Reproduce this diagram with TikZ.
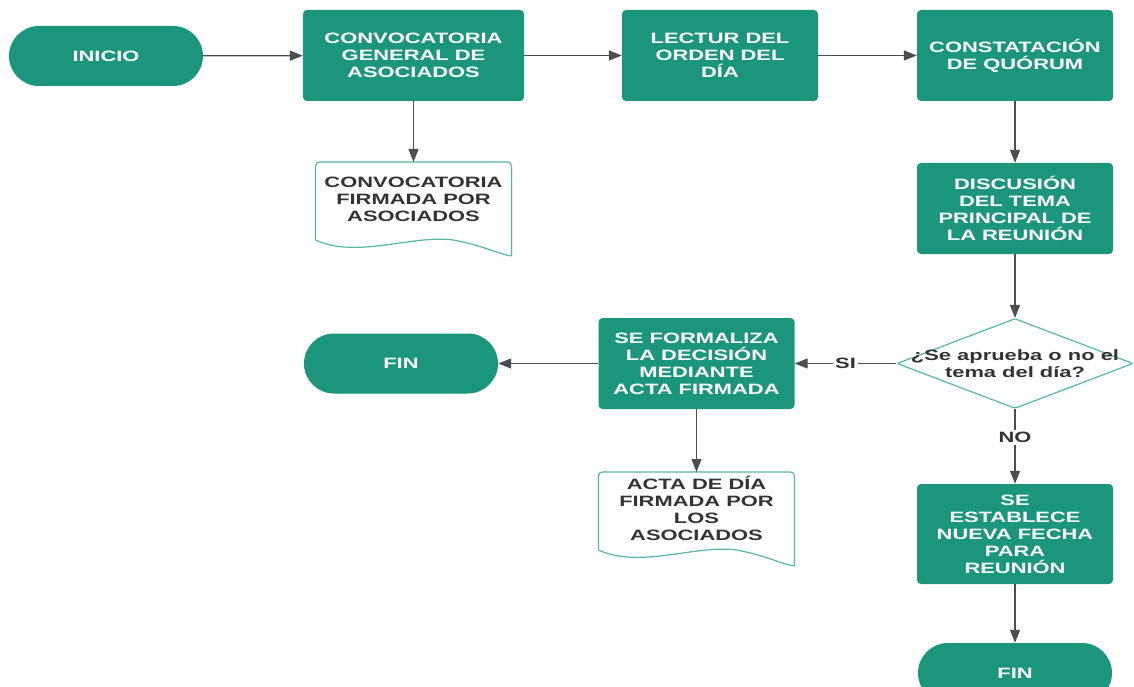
\documentclass[tikz,border=0pt]{standalone}
\usepackage{fontspec}
\setmainfont{Liberation Sans}[FakeStretch=1.46]
\usetikzlibrary{arrows.meta,shapes.geometric}
\definecolor{flowgreen}{HTML}{1B967D}
\definecolor{docedge}{HTML}{56B8A2}
\definecolor{inkgray}{HTML}{333333}
\definecolor{linegray}{HTML}{4D4D4D}

% outline of a document symbol hanging from its top-centre coordinate
\newcommand\docshape[1]{%
  \draw[docline, shift={(#1)}, rounded corners=4pt] (-98,78) -- (-98,0) -- (98,0) -- (98,94);
  \draw[docline, shift={(#1)}] (-98,78) .. controls (-55,98) and (5,70) .. (45,79)
        .. controls (70,84) and (85,92) .. (98,94);}

\begin{document}
\begin{tikzpicture}[x=1pt,y=-1pt,
  base/.style={font=\fontsize{15}{17}\selectfont\bfseries, align=center},
  terminal/.style={base, fill=flowgreen, text=white, minimum width=194pt, minimum height=60pt, rounded corners=30pt},
  process/.style={base, fill=flowgreen, text=white, minimum width=196pt, minimum height=91pt, rounded corners=4pt},
  doctext/.style={base, text=inkgray},
  decision/.style={diamond, draw=docedge, line width=1.2pt, minimum width=236pt, minimum height=90pt, inner sep=0pt, rounded corners=2pt},
  flow/.style={draw=linegray, line width=1.3pt, -{Triangle[length=13pt,width=10pt]}},
  docline/.style={draw=docedge, line width=1.2pt},
  edgelabel/.style={base, text=inkgray, fill=white, inner sep=2pt}]

\clip (0,0) rectangle (1134,687);
\fill[white] (0,0) rectangle (1134,687);

% top row
\node[terminal] (inicio) at (106,56) {INICIO};
\node[process, minimum width=221pt] (conv) at (413.5,55.5) {CONVOCATORIA\\GENERAL DE\\ASOCIADOS};
\node[process] (lect) at (720,55.5) {LECTUR DEL\\ORDEN DEL\\DÍA};
\node[process] (quor) at (1015,55.5) {CONSTATACIÓN\\DE QUÓRUM};

% first document
\coordinate (d1top) at (413.5,162);
\docshape{d1top}
\node[doctext] (d1) at (413.5,199.5) {CONVOCATORIA\\FIRMADA POR\\ASOCIADOS};

% right column
\node[process] (disc) at (1015,208.5) {DISCUSIÓN\\DEL TEMA\\PRINCIPAL DE\\LA REUNIÓN};
\node[decision] (dec) at (1015,363.5) {};
\node[doctext] (dectxt) at (1015,363.5) {¿Se aprueba o no el\\tema del día?};
\node[process, minimum height=100pt] (nueva) at (1015,534) {SE\\ESTABLECE\\NUEVA FECHA\\PARA\\REUNIÓN};
\node[terminal] (fin2) at (1015,673) {FIN};

% middle row
\node[process] (acta) at (696.5,363.5) {SE FORMALIZA\\LA DECISIÓN\\MEDIANTE\\ACTA FIRMADA};
\node[terminal] (fin1) at (401,363.5) {FIN};

% second document
\coordinate (d2top) at (696.5,472);
\docshape{d2top}
\node[doctext] (d2) at (696.5,508) {ACTA DE DÍA\\FIRMADA POR\\LOS\\ASOCIADOS};

% connectors
\draw[flow] (inicio) -- (conv);
\draw[flow] (conv) -- (lect);
\draw[flow] (lect) -- (quor);
\draw[flow] (conv.south) -- (d1top);
\draw[flow] (quor) -- (disc);
\draw[flow] (disc) -- (dec.north);
\draw[flow] (dec.west) -- node[edgelabel] (si) {SI} (acta.east);
\draw[flow] (dec.south) -- node[edgelabel, pos=0.38] (no) {NO} (nueva.north);
\draw[flow] (acta) -- (fin1);
\draw[flow] (acta.south) -- (d2top);
\draw[flow] (nueva) -- (fin2);
\end{tikzpicture}
\end{document}
